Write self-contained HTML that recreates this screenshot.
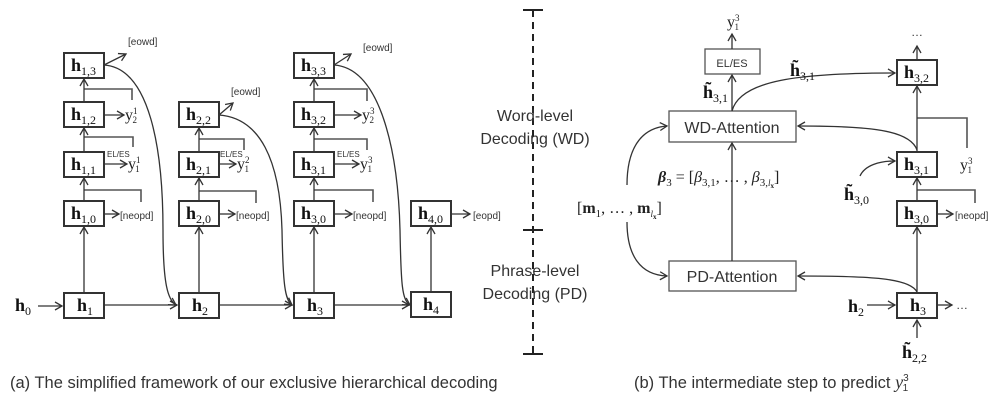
<!DOCTYPE html>
<html><head><meta charset="utf-8"><style>
body{margin:0;background:#fff}
svg{display:block}
.b{fill:#fff;stroke:#333;stroke-width:2}
.h{font-family:"Liberation Serif",serif;font-weight:bold;font-size:18px;fill:#111}
.s{font-size:12px;font-weight:normal}
.l{stroke:#333;stroke-width:1.3;fill:none}
.g{stroke:#555;stroke-width:1.6;fill:none}
.t{font-family:"Liberation Sans",sans-serif;fill:#333}
.yy{font-family:"Liberation Serif",serif;font-size:16px;fill:#222}
</style></head><body>
<svg width="1006" height="402" viewBox="0 0 1006 402">
<defs><marker id="a" markerWidth="10" markerHeight="10" refX="8" refY="5" orient="auto" markerUnits="userSpaceOnUse"><path d="M1,1 L8,5 L1,9" fill="none" stroke="#333" stroke-width="1.3"/></marker></defs>

<path class="g" d="M84,89 H132 V100 M84,137 H133 V147 M84,190 H141 V202"/>
<path class="g" d="M199,139 H244 V150 M199,191 H256 V203"/>
<path class="g" d="M314,89 H367 V101 M314,139 H367 V150 M314,190 H373 V202"/>
<g class="l" marker-end="url(#a)">
<line x1="84" y1="293" x2="84" y2="227"/><line x1="84" y1="201" x2="84" y2="178"/><line x1="84" y1="152" x2="84" y2="128"/><line x1="84" y1="102" x2="84" y2="79"/>
<line x1="199" y1="293" x2="199" y2="227"/><line x1="199" y1="201" x2="199" y2="178"/><line x1="199" y1="152" x2="199" y2="128"/>
<line x1="314" y1="293" x2="314" y2="227"/><line x1="314" y1="201" x2="314" y2="178"/><line x1="314" y1="152" x2="314" y2="128"/><line x1="314" y1="102" x2="314" y2="79"/>
<line x1="431" y1="292" x2="431" y2="227"/>
<line x1="38" y1="306" x2="62" y2="306"/><line x1="104" y1="305" x2="177" y2="305"/><line x1="219" y1="305" x2="292" y2="305"/><line x1="334" y1="305" x2="409" y2="305"/>
<line x1="104" y1="65" x2="126" y2="54"/><line x1="104" y1="115" x2="124" y2="115"/><line x1="104" y1="164" x2="127" y2="164"/><line x1="104" y1="214" x2="119" y2="214"/>
<line x1="219" y1="115" x2="233" y2="103"/><line x1="219" y1="164" x2="236" y2="164"/><line x1="219" y1="214" x2="235" y2="214"/>
<line x1="334" y1="65" x2="351" y2="54"/><line x1="334" y1="115" x2="361" y2="115"/><line x1="334" y1="164" x2="359" y2="164"/><line x1="334" y1="214" x2="352" y2="214"/>
<line x1="451" y1="214" x2="470" y2="214"/>
<path d="M104,65 C150,68 163,150 163,230 C163,285 168,300 176,305"/>
<path d="M219,115 C260,118 280,160 282,230 C283,285 285,300 292,305"/>
<path d="M334,65 C380,68 398,150 400,230 C401,285 402,300 410,305"/>
</g>
<g>
<rect class="b" x="64" y="53" width="40" height="25"/><text class="h" x="71" y="71">h<tspan class="s" dy="4">1,3</tspan></text>
<rect class="b" x="64" y="102" width="40" height="25"/><text class="h" x="71" y="120">h<tspan class="s" dy="4">1,2</tspan></text>
<rect class="b" x="64" y="152" width="40" height="25"/><text class="h" x="71" y="170">h<tspan class="s" dy="4">1,1</tspan></text>
<rect class="b" x="64" y="201" width="40" height="25"/><text class="h" x="71" y="219">h<tspan class="s" dy="4">1,0</tspan></text>
<rect class="b" x="64" y="293" width="40" height="25"/><text class="h" x="77" y="311">h<tspan class="s" dy="4">1</tspan></text>
<rect class="b" x="179" y="102" width="40" height="25"/><text class="h" x="186" y="120">h<tspan class="s" dy="4">2,2</tspan></text>
<rect class="b" x="179" y="152" width="40" height="25"/><text class="h" x="186" y="170">h<tspan class="s" dy="4">2,1</tspan></text>
<rect class="b" x="179" y="201" width="40" height="25"/><text class="h" x="186" y="219">h<tspan class="s" dy="4">2,0</tspan></text>
<rect class="b" x="179" y="293" width="40" height="25"/><text class="h" x="192" y="311">h<tspan class="s" dy="4">2</tspan></text>
<rect class="b" x="294" y="53" width="40" height="25"/><text class="h" x="301" y="71">h<tspan class="s" dy="4">3,3</tspan></text>
<rect class="b" x="294" y="102" width="40" height="25"/><text class="h" x="301" y="120">h<tspan class="s" dy="4">3,2</tspan></text>
<rect class="b" x="294" y="152" width="40" height="25"/><text class="h" x="301" y="170">h<tspan class="s" dy="4">3,1</tspan></text>
<rect class="b" x="294" y="201" width="40" height="25"/><text class="h" x="301" y="219">h<tspan class="s" dy="4">3,0</tspan></text>
<rect class="b" x="294" y="293" width="40" height="25"/><text class="h" x="307" y="311">h<tspan class="s" dy="4">3</tspan></text>
<rect class="b" x="411" y="201" width="40" height="25"/><text class="h" x="418" y="219">h<tspan class="s" dy="4">4,0</tspan></text>
<rect class="b" x="411" y="292" width="40" height="25"/><text class="h" x="423" y="310">h<tspan class="s" dy="4">4</tspan></text>
<text class="h" x="15" y="311">h<tspan class="s" dy="4">0</tspan></text>
</g>
<g class="t" font-size="10">
<text x="128" y="45">[eowd]</text><text x="231" y="95">[eowd]</text><text x="363" y="51">[eowd]</text>
<text x="120" y="219">[neopd]</text><text x="236" y="219">[neopd]</text><text x="353" y="219">[neopd]</text><text x="473" y="219">[eopd]</text>
<text x="107" y="157" font-size="8">EL/ES</text><text x="220" y="157" font-size="8">EL/ES</text><text x="337" y="157" font-size="8">EL/ES</text>
</g>
<g class="yy">
<text x="125" y="120">y<tspan font-size="9" dy="-6">1</tspan><tspan font-size="9" dx="-5" dy="9">2</tspan></text>
<text x="128" y="169">y<tspan font-size="9" dy="-6">1</tspan><tspan font-size="9" dx="-5" dy="9">1</tspan></text>
<text x="237" y="169">y<tspan font-size="9" dy="-6">2</tspan><tspan font-size="9" dx="-5" dy="9">1</tspan></text>
<text x="362" y="120">y<tspan font-size="9" dy="-6">3</tspan><tspan font-size="9" dx="-5" dy="9">2</tspan></text>
<text x="360" y="169">y<tspan font-size="9" dy="-6">3</tspan><tspan font-size="9" dx="-5" dy="9">1</tspan></text>
</g>

<path d="M533,10 V354" stroke="#222" stroke-width="2" stroke-dasharray="7,5"/>
<path d="M523,10 H543 M523,230 H543 M523,354 H543" stroke="#222" stroke-width="2"/>
<g class="t" font-size="16" text-anchor="middle">
<text x="535" y="121">Word-level</text><text x="535" y="144">Decoding (WD)</text>
<text x="535" y="276">Phrase-level</text><text x="535" y="299">Decoding (PD)</text>
</g>

<rect x="669" y="111" width="127" height="31" fill="#fff" stroke="#555" stroke-width="1.3"/>
<text class="t" x="732" y="133" font-size="16" text-anchor="middle">WD-Attention</text>
<rect x="669" y="261" width="127" height="30" fill="#fff" stroke="#555" stroke-width="1.3"/>
<text class="t" x="732" y="282" font-size="16" text-anchor="middle">PD-Attention</text>
<rect x="705" y="49" width="55" height="25" fill="#fff" stroke="#555" stroke-width="1.3"/>
<text class="t" x="732" y="67" font-size="11" text-anchor="middle">EL/ES</text>
<path class="g" d="M917,118 H967 V148 M917,190 H975 V203"/>
<g class="l" marker-end="url(#a)">
<line x1="732" y1="111" x2="732" y2="75"/><line x1="732" y1="49" x2="732" y2="34"/>
<line x1="732" y1="261" x2="732" y2="143"/>
<path d="M732,111 C740,80 800,73 895,73"/>
<path d="M917,150 C910,130 870,126 798,126"/>
<path d="M917,292 C910,278 870,276 798,276"/>
<path d="M627,185 C627,150 640,128 667,126"/>
<path d="M627,222 C627,255 640,275 667,276"/>
<path d="M860,176 C865,165 880,161 895,161"/>
<line x1="917" y1="293" x2="917" y2="227"/><line x1="917" y1="201" x2="917" y2="178"/><line x1="917" y1="152" x2="917" y2="86"/><line x1="917" y1="60" x2="917" y2="46"/>
<line x1="867" y1="305" x2="895" y2="305"/><line x1="937" y1="305" x2="952" y2="305"/>
<line x1="917" y1="338" x2="917" y2="320"/><line x1="937" y1="214" x2="953" y2="214"/>
</g>
<rect class="b" x="897" y="60" width="40" height="25"/><text class="h" x="904" y="78">h<tspan class="s" dy="4">3,2</tspan></text>
<rect class="b" x="897" y="152" width="40" height="25"/><text class="h" x="904" y="170">h<tspan class="s" dy="4">3,1</tspan></text>
<rect class="b" x="897" y="201" width="40" height="25"/><text class="h" x="904" y="219">h<tspan class="s" dy="4">3,0</tspan></text>
<rect class="b" x="897" y="293" width="40" height="25"/><text class="h" x="910" y="311">h<tspan class="s" dy="4">3</tspan></text>
<text class="h" x="848" y="312">h<tspan class="s" dy="4">2</tspan></text>
<text class="h" x="703" y="98">h̃<tspan class="s" dy="4">3,1</tspan></text>
<text class="h" x="790" y="76">h̃<tspan class="s" dy="4">3,1</tspan></text>
<text class="h" x="844" y="200">h̃<tspan class="s" dy="4">3,0</tspan></text>
<text class="h" x="902" y="358">h̃<tspan class="s" dy="4">2,2</tspan></text>
<text class="t" x="956" y="309" font-size="12">…</text>
<text class="t" x="911" y="36" font-size="12">…</text>
<text class="t" x="955" y="219" font-size="10">[neopd]</text>
<text class="yy" x="727" y="27">y<tspan font-size="9" dy="-6">3</tspan><tspan font-size="9" dx="-5" dy="9">1</tspan></text>
<text class="yy" x="960" y="170">y<tspan font-size="9" dy="-6">3</tspan><tspan font-size="9" dx="-5" dy="9">1</tspan></text>
<text class="yy" x="658" y="182" font-size="17"><tspan font-weight="bold" font-style="italic">β</tspan><tspan font-size="11" dy="4">3</tspan><tspan dy="-4"> = [</tspan><tspan font-style="italic">β</tspan><tspan font-size="11" dy="4">3,1</tspan><tspan dy="-4">, … , </tspan><tspan font-style="italic">β</tspan><tspan font-size="11" dy="4">3,</tspan><tspan font-size="9" font-style="italic">l</tspan><tspan font-size="7" font-weight="bold" dy="2">x</tspan><tspan dy="-6">]</tspan></text>
<text class="yy" x="577" y="213" font-size="17">[<tspan font-weight="bold">m</tspan><tspan font-size="11" dy="4">1</tspan><tspan dy="-4">, … , </tspan><tspan font-weight="bold">m</tspan><tspan font-size="9" font-style="italic" dy="4">l</tspan><tspan font-size="7" font-weight="bold" dy="2">x</tspan><tspan dy="-6">]</tspan></text>

<text class="t" x="10" y="388" font-size="16.5">(a) The simplified framework of our exclusive hierarchical decoding</text>
<text class="t" x="634" y="388" font-size="16.5">(b) The intermediate step to predict <tspan font-family="Liberation Serif" font-style="italic" font-size="18">y</tspan><tspan font-size="10" dy="-7">3</tspan><tspan font-size="10" dx="-6" dy="10">1</tspan></text>
</svg>
</body></html>
